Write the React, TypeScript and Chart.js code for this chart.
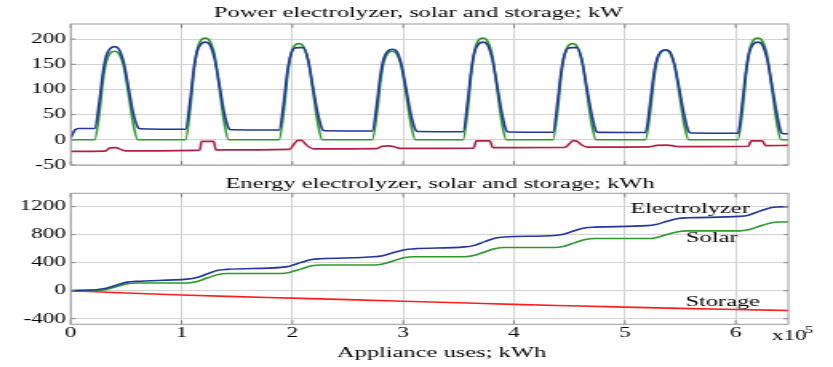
import React, { useEffect, useRef } from "react";
import { Chart, registerables } from "chart.js";

Chart.register(...registerables);

type Pt = [number, number];

// ---------------- data (x axis: appliance uses, units of 10^5 kWh) ----------------
const powerTitle = "Power electrolyzer, solar and storage; kW";
const energyTitle = "Energy electrolyzer, solar and storage; kWh";
const xAxisTitle = "Appliance uses; kWh";
const xTickLabels = [0, 1, 2, 3, 4, 5, 6];
const powerTickLabels = [-50, 0, 50, 100, 150, 200];
const energyTickLabels = [-400, 0, 400, 800, 1200];

const electrolyzerPower: Pt[] = [
  [0, 3], [0.02, 13], [0.04, 20], [0.07, 22.5],
  [0.215, 22.5], [0.26, 80], [0.29, 133], [0.32, 167], [0.355, 181], [0.395, 185], [0.435, 180], [0.48, 152], [0.52, 105], [0.565, 52], [0.605, 25], [0.625, 22],
  [1.035, 21], [1.08, 83], [1.11, 140], [1.14, 175], [1.175, 190], [1.215, 194], [1.255, 189], [1.3, 159], [1.34, 111], [1.385, 54], [1.425, 23], [1.445, 20],
  [1.88, 19.5], [1.925, 79], [1.955, 135], [1.985, 168], [2.02, 182], [2.06, 183], [2.1, 183], [2.145, 155], [2.185, 106], [2.23, 52], [2.27, 21], [2.29, 18],
  [2.72, 17.5], [2.765, 77], [2.795, 130], [2.825, 162], [2.86, 176], [2.9, 180], [2.94, 176], [2.985, 148], [3.025, 103], [3.07, 50], [3.11, 20], [3.13, 16.5],
  [3.54, 16], [3.585, 83], [3.615, 140], [3.645, 175], [3.68, 190], [3.72, 194], [3.76, 189], [3.805, 159], [3.845, 111], [3.89, 54], [3.93, 18.5], [3.95, 15.5],
  [4.35, 15], [4.395, 79], [4.425, 135], [4.455, 168], [4.49, 182], [4.53, 183], [4.57, 183], [4.615, 155], [4.655, 106], [4.7, 52], [4.74, 17.5], [4.76, 14.7],
  [5.185, 14.5], [5.23, 77], [5.26, 129], [5.29, 161], [5.325, 175], [5.365, 179], [5.405, 175], [5.45, 147], [5.49, 102], [5.535, 50], [5.575, 16.5], [5.595, 13.5],
  [6.02, 13], [6.065, 83], [6.095, 140], [6.125, 175], [6.16, 190], [6.2, 194], [6.24, 189], [6.285, 159], [6.325, 111], [6.37, 54], [6.41, 15], [6.43, 12], [6.475, 12],
];

const solarPower: Pt[] = [
  [0, 0], [0.215, 0], [0.26, 56], [0.29, 116], [0.32, 155], [0.355, 172], [0.395, 176], [0.435, 171], [0.48, 144], [0.52, 92], [0.565, 30], [0.605, 0],
  [1.035, 0], [1.08, 65], [1.11, 133], [1.14, 178], [1.175, 198], [1.215, 202], [1.255, 196], [1.3, 166], [1.34, 105], [1.385, 34], [1.425, 0],
  [1.88, 0], [1.925, 61], [1.955, 126], [1.985, 168], [2.02, 187], [2.06, 191], [2.1, 185], [2.145, 157], [2.185, 99], [2.23, 32], [2.27, 0],
  [2.72, 0], [2.765, 56], [2.795, 116], [2.825, 155], [2.86, 172], [2.9, 176], [2.94, 171], [2.985, 144], [3.025, 92], [3.07, 30], [3.11, 0],
  [3.54, 0], [3.585, 65], [3.615, 133], [3.645, 178], [3.68, 198], [3.72, 202], [3.76, 196], [3.805, 166], [3.845, 105], [3.89, 34], [3.93, 0],
  [4.35, 0], [4.395, 61], [4.425, 126], [4.455, 168], [4.49, 187], [4.53, 191], [4.57, 185], [4.615, 157], [4.655, 99], [4.7, 32], [4.74, 0],
  [5.185, 0], [5.23, 57], [5.26, 117], [5.29, 157], [5.325, 174], [5.365, 178], [5.405, 173], [5.45, 146], [5.49, 93], [5.535, 30], [5.575, 0],
  [6.02, 0], [6.065, 65], [6.095, 133], [6.125, 178], [6.16, 198], [6.2, 202], [6.24, 196], [6.285, 166], [6.325, 105], [6.37, 34], [6.41, 0], [6.475, 0],
];

const storagePower: Pt[] = [
  [0, -23], [0.31, -22.5], [0.355, -16], [0.41, -15.5], [0.44, -18], [0.49, -22],
  [1.165, -20.5], [1.18, -3], [1.29, -3], [1.31, -20],
  [1.975, -19], [2.01, -10], [2.05, -1], [2.085, -1], [2.12, -9], [2.19, -18],
  [2.76, -17.5], [2.81, -13], [2.87, -12], [2.92, -14], [2.97, -17],
  [3.635, -16.5], [3.66, -2], [3.78, -2], [3.81, -15.5],
  [4.455, -15.3], [4.5, -8], [4.535, -1.5], [4.57, -3], [4.61, -10], [4.66, -14.5],
  [5.22, -14], [5.29, -11], [5.38, -10.5], [5.44, -12], [5.48, -13.5],
  [6.115, -12.7], [6.14, -2], [6.24, -2], [6.27, -11.5], [6.475, -11],
];

const electrolyzerEnergy: Pt[] = [
  [0, 0], [0.03, 1], [0.12, 7], [0.23, 14], [0.31, 30], [0.41, 78], [0.51, 122], [0.59, 133],
  [1.05, 165], [1.13, 183], [1.23, 238], [1.33, 290], [1.41, 304],
  [1.895, 333], [1.975, 350], [2.075, 400], [2.175, 445], [2.255, 456],
  [2.735, 484], [2.815, 500], [2.915, 545], [3.015, 585], [3.095, 597],
  [3.555, 625], [3.635, 643], [3.735, 700], [3.835, 752], [3.915, 766],
  [4.365, 788], [4.445, 805], [4.545, 855], [4.645, 897], [4.725, 907],
  [5.2, 928], [5.28, 945], [5.38, 990], [5.48, 1030], [5.56, 1040],
  [6.035, 1060], [6.115, 1078], [6.215, 1135], [6.315, 1185], [6.395, 1196], [6.475, 1200],
];

const solarEnergy: Pt[] = [
  [0, 0], [0.23, 0], [0.31, 13], [0.41, 57], [0.51, 99], [0.59, 110],
  [1.05, 110], [1.13, 126], [1.23, 180], [1.33, 232], [1.41, 245],
  [1.895, 245], [1.975, 260], [2.075, 308], [2.175, 355], [2.255, 367],
  [2.735, 367], [2.815, 381], [2.915, 428], [3.015, 473], [3.095, 485],
  [3.555, 485], [3.635, 501], [3.735, 553], [3.835, 603], [3.915, 616],
  [4.365, 616], [4.445, 631], [4.545, 682], [4.645, 730], [4.725, 744],
  [5.2, 744], [5.28, 757], [5.38, 802], [5.48, 841], [5.56, 853],
  [6.035, 853], [6.115, 868], [6.215, 920], [6.315, 967], [6.395, 980], [6.475, 981],
];

const storageEnergy: Pt[] = [
  [0, 0], [0.5, -33], [1, -62], [1.5, -85], [2, -106], [2.5, -128], [3, -150],
  [3.5, -172], [4, -196], [4.5, -216], [5, -235], [5.5, -252], [6, -268], [6.475, -282],
];

// series name labels, anchored in data units (left edge, baseline)
const energyLabelAnchors = [
  { text: "Electrolyzer", x: 5.05, y: 1115 },
  { text: "Solar", x: 5.552, y: 688 },
  { text: "Storage", x: 5.546, y: -214 },
];

// ---------------- layout & style ----------------
const PAGE_W = 833;
const CW = 521; // canvas drawing width; stretched horizontally to PAGE_W like the source picture
const S = PAGE_W / CW;
const PLOT_LEFT = 70.7;
const PLOT_RIGHT = 788.3;
const X_MAX = 6.475;
const TOP_H = 170;
const BOT_H = 197;

const FONT = "'Liberation Serif', 'Times New Roman', Times, serif";
const INK = "#000000";
const GRID = "#d2d2d2";
const FRAME = "#999999";
const TICKMARK = "#858585";
const BLUE = "#22369c";
const GREEN = "#2d992d";
const CRIMSON = "#b31f40";
const RED = "#ff1e1e";
const LINE_W = 1.6;
const TICK_SIZE = 14.5;
const TITLE_SIZE = 15.3;

type TextItem = { text: string; x: number; y: number; size: number; align: CanvasTextAlign };

const toXY = (pts: Pt[]) => pts.map(([x, y]) => ({ x, y }));

function line(label: string, pts: Pt[], color: string) {
  return {
    label,
    data: toXY(pts),
    borderColor: color,
    backgroundColor: color,
    borderWidth: LINE_W,
    pointRadius: 0,
    fill: false,
    cubicInterpolationMode: "monotone" as const,
  };
}

function decor(texts: TextItem[], dataTexts: { text: string; x: number; y: number }[]) {
  return {
    id: "decor",
    afterDatasetsDraw(chart: any) {
      const { ctx, chartArea: a } = chart;
      const xs = chart.scales.x;
      const ys = chart.scales.y;
      ctx.save();
      ctx.strokeStyle = TICKMARK;
      ctx.lineWidth = 1;
      ctx.beginPath();
      for (const t of ys.ticks) {
        const py = ys.getPixelForValue(t.value);
        ctx.moveTo(a.left, py);
        ctx.lineTo(a.left + 3, py);
        ctx.moveTo(a.right, py);
        ctx.lineTo(a.right - 3, py);
      }
      for (const t of xs.ticks) {
        const px = xs.getPixelForValue(t.value);
        ctx.moveTo(px, a.bottom);
        ctx.lineTo(px, a.bottom - 4);
        ctx.moveTo(px, a.top);
        ctx.lineTo(px, a.top + 4);
      }
      ctx.stroke();
      ctx.strokeStyle = FRAME;
      ctx.strokeRect(a.left, a.top, a.right - a.left, a.bottom - a.top);
      ctx.restore();
    },
    afterDraw(chart: any) {
      const { ctx } = chart;
      ctx.save();
      ctx.fillStyle = INK;
      ctx.textBaseline = "alphabetic";
      for (const t of texts) {
        ctx.font = `${t.size}px ${FONT}`;
        ctx.textAlign = t.align;
        ctx.fillText(t.text, t.x / S, t.y);
      }
      ctx.font = `${TITLE_SIZE}px ${FONT}`;
      ctx.textAlign = "left";
      for (const d of dataTexts) {
        ctx.fillText(d.text, chart.scales.x.getPixelForValue(d.x), chart.scales.y.getPixelForValue(d.y));
      }
      ctx.restore();
    },
  };
}

function xScale(showLabels: boolean, height: number) {
  return {
    type: "linear" as const,
    min: 0,
    max: X_MAX,
    ticks: {
      stepSize: 1,
      includeBounds: false,
      display: showLabels,
      padding: 0,
      maxRotation: 0,
      autoSkip: false,
      font: { family: FONT, size: TICK_SIZE },
      color: INK,
      callback: (v: any) => (xTickLabels.includes(Number(v)) ? String(v) : ""),
    },
    grid: { color: GRID, drawTicks: false },
    border: { display: false },
    afterFit: (s: any) => {
      s.height = height;
      s.paddingLeft = 0;
      s.paddingRight = 0;
    },
  };
}

function yScale(min: number, max: number, step: number, labels: number[]) {
  return {
    type: "linear" as const,
    min,
    max,
    ticks: {
      stepSize: step,
      includeBounds: false,
      padding: 3,
      font: { family: FONT, size: TICK_SIZE },
      color: INK,
      callback: (v: any) => (labels.includes(Number(v)) ? String(v) : ""),
    },
    grid: { color: GRID, drawTicks: false },
    border: { display: false },
    afterFit: (s: any) => {
      s.width = PLOT_LEFT / S;
      s.paddingTop = 0;
      s.paddingBottom = 0;
    },
  };
}

const baseOptions = {
  responsive: false,
  maintainAspectRatio: false,
  animation: false as const,
  devicePixelRatio: 1,
  plugins: { legend: { display: false }, tooltip: { enabled: false }, title: { display: false } },
};

function buildPower(canvas: HTMLCanvasElement) {
  return new Chart(canvas, {
    type: "line",
    data: {
      datasets: [
        line("Electrolyzer", electrolyzerPower, BLUE),
        line("Solar", solarPower, GREEN),
        line("Storage", storagePower, CRIMSON),
      ],
    },
    options: {
      ...baseOptions,
      layout: { padding: { left: 0, top: 24, right: CW - PLOT_RIGHT / S, bottom: 0 } },
      scales: {
        x: xScale(false, TOP_H - 165),
        y: yScale(-50, 230, 50, powerTickLabels),
      },
    } as any,
    plugins: [decor([{ text: powerTitle, x: 418.5, y: 17.3, size: TITLE_SIZE, align: "center" }], [])],
  });
}

function buildEnergy(canvas: HTMLCanvasElement) {
  return new Chart(canvas, {
    type: "line",
    data: {
      datasets: [
        line("Electrolyzer", electrolyzerEnergy, BLUE),
        line("Solar", solarEnergy, GREEN),
        line("Storage", storageEnergy, RED),
      ],
    },
    options: {
      ...baseOptions,
      layout: { padding: { left: 0, top: 23.3, right: CW - PLOT_RIGHT / S, bottom: 0 } },
      scales: {
        x: xScale(true, BOT_H - 154.3),
        y: yScale(-480, 1390, 200, energyTickLabels),
      },
    } as any,
    plugins: [
      decor(
        [
          { text: energyTitle, x: 440, y: 17.7, size: TITLE_SIZE, align: "center" },
          { text: xAxisTitle, x: 441.5, y: 186.7, size: TITLE_SIZE, align: "center" },
          { text: "x10", x: 771.7, y: 170, size: TICK_SIZE, align: "left" },
          { text: "5", x: 805, y: 163.3, size: 10, align: "left" },
        ],
        energyLabelAnchors
      ),
    ],
  });
}

function StretchedChart({ height, build }: { height: number; build: (c: HTMLCanvasElement) => Chart }) {
  const ref = useRef<HTMLCanvasElement>(null);
  useEffect(() => {
    if (!ref.current) return;
    const chart = build(ref.current);
    return () => chart.destroy();
  }, [build]);
  return (
    <canvas
      ref={ref}
      width={CW}
      height={height}
      style={{ display: "block", width: `${PAGE_W}px`, height: `${height}px` }}
    />
  );
}

export default function App() {
  return (
    <div style={{ width: PAGE_W, height: TOP_H + BOT_H, background: "#fff" }}>
      <style>{"html,body{margin:0;padding:0;background:#fff;}"}</style>
      <StretchedChart height={TOP_H} build={buildPower} />
      <StretchedChart height={BOT_H} build={buildEnergy} />
    </div>
  );
}
